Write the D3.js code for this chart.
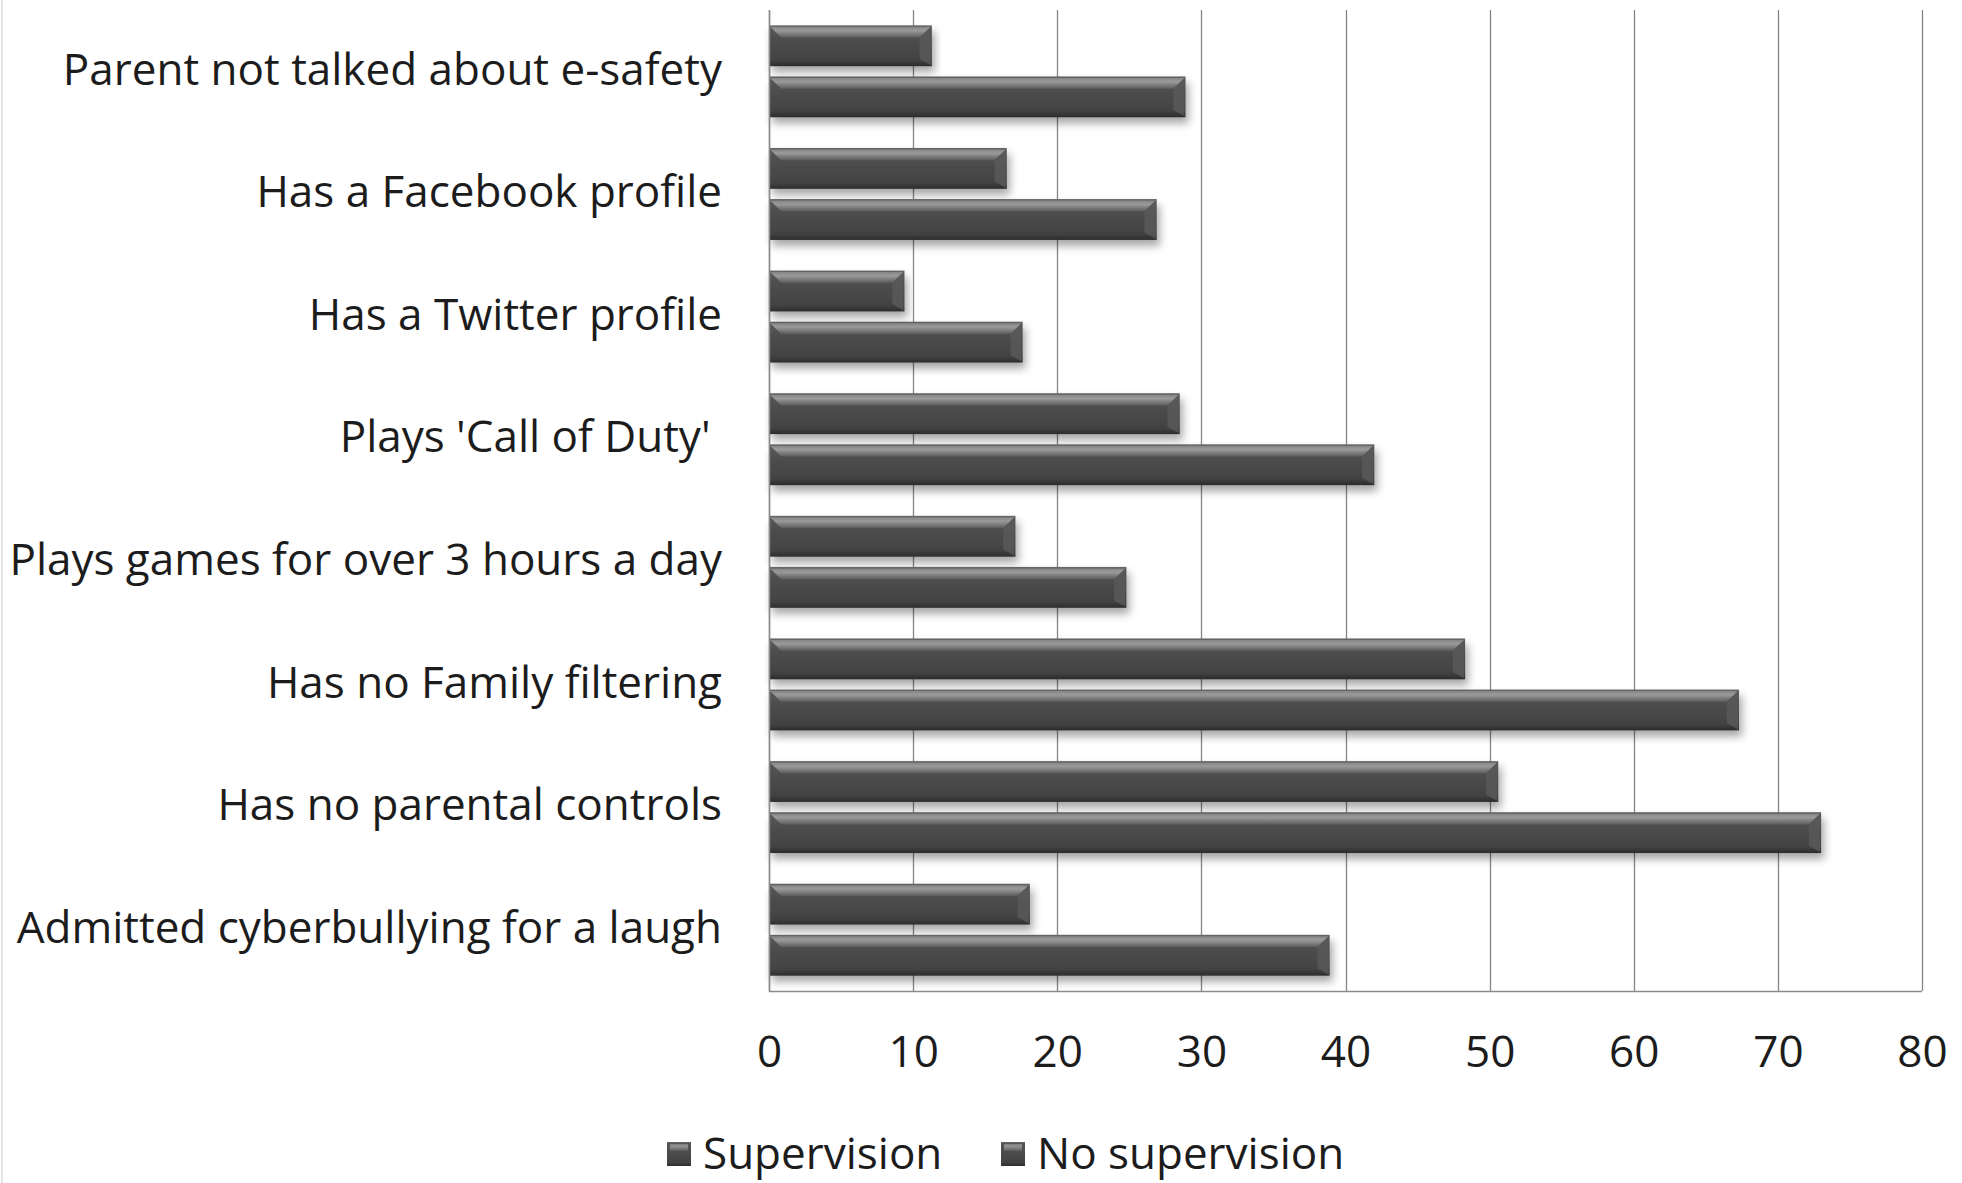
<!DOCTYPE html>
<html>
<head>
<meta charset="utf-8">
<script src="https://cdn.jsdelivr.net/npm/d3@7"></script>
<style>
  html, body { margin: 0; padding: 0; background: #fff; }
  svg { display: block; }
  text { font-family: "Open Sans", Lato, sans-serif; fill: #1c1c1c; }
</style>
</head>
<body>
<svg id="chart" width="1962" height="1183"></svg>
<script>
// ---- data ----
const categories = [
  "Parent not talked about e-safety",
  "Has a Facebook profile",
  "Has a Twitter profile",
  "Plays 'Call of Duty' ",
  "Plays games for over 3 hours a day",
  "Has no Family filtering",
  "Has no parental controls",
  "Admitted cyberbullying for a laugh"
];
const seriesNames = ["Supervision", "No supervision"];
const supervision   = [11.3, 16.5, 9.4, 28.5, 17.1, 48.3, 50.6, 18.1];
const noSupervision = [28.9, 26.9, 17.6, 42.0, 24.8, 67.3, 73.0, 38.9];
const xTicks = [0, 10, 20, 30, 40, 50, 60, 70, 80];

// ---- layout ----
const W = 1962, H = 1183;
const plot = { left: 769, right: 1922, top: 10, bottom: 991 };
const FS = 44;
const FONT = "'Open Sans', Lato, sans-serif";

const svg = d3.select("#chart");
const defs = svg.append("defs");

const body = defs.append("linearGradient").attr("id", "bodyGrad")
  .attr("x1", 0).attr("y1", 0).attr("x2", 0).attr("y2", 1);
[[0, "#6a6a6a"], [0.06, "#565656"], [0.45, "#4b4b4b"], [0.85, "#424242"], [1, "#2c2c2c"]]
  .forEach(([o, c]) => body.append("stop").attr("offset", o).attr("stop-color", c));

const hi = defs.append("linearGradient").attr("id", "hiGrad")
  .attr("x1", 0).attr("y1", 0).attr("x2", 0).attr("y2", 1);
[[0, "#8a8a8a"], [0.35, "#a2a2a2"], [1, "#5e5e5e"]]
  .forEach(([o, c]) => hi.append("stop").attr("offset", o).attr("stop-color", c));

const sh = defs.append("filter").attr("id", "shadow")
  .attr("x", "-5%").attr("y", "-30%").attr("width", "110%").attr("height", "180%");
sh.append("feDropShadow").attr("dx", 3).attr("dy", 6).attr("stdDeviation", 4)
  .attr("flood-color", "#000").attr("flood-opacity", 0.35);

// faint outer chart border on the left edge
svg.append("line").attr("x1", 2).attr("x2", 2).attr("y1", 0).attr("y2", H)
  .attr("stroke", "#e4e4e4").attr("stroke-width", 2);

// ---- scales ----
const x = d3.scaleLinear().domain([0, 80]).range([plot.left, plot.right]);
const y0 = d3.scaleBand().domain(categories).range([plot.top, plot.bottom])
  .paddingInner(0.25).paddingOuter(0.125);
const y1 = d3.scaleBand().domain(seriesNames).range([0, y0.bandwidth()]).paddingInner(0.2);

// ---- gridlines ----
svg.append("g").selectAll("line").data(xTicks).join("line")
  .attr("x1", d => Math.round(x(d)) + 0.5).attr("x2", d => Math.round(x(d)) + 0.5)
  .attr("y1", plot.top).attr("y2", plot.bottom)
  .attr("stroke", "#858585").attr("stroke-width", 1.3);

// bottom axis line
svg.append("line").attr("x1", plot.left).attr("x2", plot.right)
  .attr("y1", plot.bottom + 0.5).attr("y2", plot.bottom + 0.5)
  .attr("stroke", "#8a8a8a").attr("stroke-width", 1.5);

// ---- bars ----
const rows = categories.map((c, i) => ({ cat: c, vals: [supervision[i], noSupervision[i]] }));
const groups = svg.append("g").selectAll("g").data(rows).join("g")
  .attr("transform", d => `translate(0,${y0(d.cat)})`);

function drawBar(sel) {
  sel.each(function (d) {
    const g = d3.select(this);
    const xa = x(0), xb = x(d.v);
    const yt = y1(d.s), bh = y1.bandwidth();
    g.append("rect").attr("x", xa).attr("y", yt).attr("width", xb - xa).attr("height", bh)
      .attr("fill", "url(#bodyGrad)").attr("filter", "url(#shadow)");
    const h = bh * 0.3;
    g.append("path")
      .attr("d", `M${xa + 1},${yt + 1.5} L${xb - 1},${yt + 1.5} L${xb - h},${yt + h} L${xa + h},${yt + h} Z`)
      .attr("fill", "url(#hiGrad)").attr("opacity", 0.9);
    // right-end bevel
    g.append("path")
      .attr("d", `M${xb - 1},${yt + 1.5} L${xb - h},${yt + h} L${xb - h},${yt + bh - h * 0.6} L${xb - 1},${yt + bh - 1} Z`)
      .attr("fill", "#5a5a5a").attr("opacity", 0.8);
  });
}
groups.selectAll("g.bar")
  .data(d => d.vals.map((v, j) => ({ v, s: seriesNames[j] })))
  .join("g").attr("class", "bar").call(drawBar);

// left axis line (drawn over bars)
svg.append("line").attr("x1", plot.left + 0.5).attr("x2", plot.left + 0.5)
  .attr("y1", plot.top).attr("y2", plot.bottom + 1)
  .attr("stroke", "#8a8a8a").attr("stroke-width", 1.5);

// ---- axes ----
const xAxis = svg.append("g").attr("transform", `translate(0,${plot.bottom})`)
  .call(d3.axisBottom(x).tickValues(xTicks).tickSize(0).tickPadding(45));
xAxis.select(".domain").remove();
xAxis.selectAll("text").attr("font-size", FS).style("font-family", FONT).attr("fill", "#1c1c1c");

const yAxis = svg.append("g").attr("transform", `translate(${plot.left},0)`)
  .call(d3.axisLeft(y0).tickSize(0).tickPadding(47));
yAxis.select(".domain").remove();
yAxis.selectAll("text").attr("font-size", FS).attr("dy", "0.3em")
  .style("font-family", FONT).style("white-space", "pre").attr("fill", "#1c1c1c");

// ---- legend ----
const legendX = [667, 1001];
const legend = svg.append("g").selectAll("g").data(seriesNames).join("g")
  .attr("transform", (d, i) => `translate(${legendX[i]},1142)`);
legend.append("rect").attr("width", 24).attr("height", 24).attr("fill", "url(#bodyGrad)");
legend.append("rect").attr("x", 3).attr("y", 2).attr("width", 18).attr("height", 7).attr("fill", "url(#hiGrad)").attr("opacity", 0.8);
legend.append("text").attr("x", 36).attr("y", 12).attr("dy", "0.33em")
  .attr("font-size", FS).style("font-family", FONT).text(d => d);
</script>
</body>
</html>
